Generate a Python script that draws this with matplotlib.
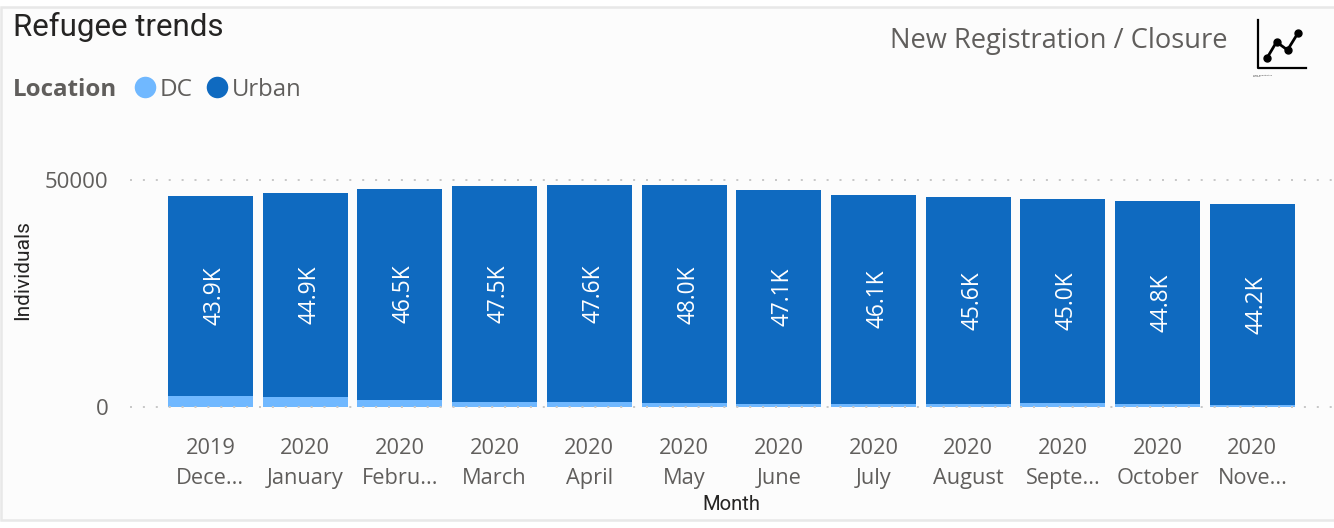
import matplotlib
matplotlib.use("Agg")
import matplotlib.pyplot as plt
from matplotlib.patches import Rectangle
from matplotlib.lines import Line2D

W, H = 1334, 528

years = ["2019", "2020", "2020", "2020", "2020", "2020", "2020", "2020", "2020", "2020", "2020", "2020"]
months = ["Dece...", "January", "Febru...", "March", "April", "May", "June", "July", "August", "Septe...", "October", "Nove..."]
urban = [43900, 44900, 46500, 47500, 47600, 48000, 47100, 46100, 45600, 45000, 44800, 44200]
dc = [2500, 2200, 1600, 1100, 1200, 800, 700, 700, 700, 800, 600, 500]
labels = ["43.9K", "44.9K", "46.5K", "47.5K", "47.6K", "48.0K", "47.1K", "46.1K", "45.6K", "45.0K", "44.8K", "44.2K"]
yticks = [0, 50000]

icon_x = [1267, 1276.5, 1287.5, 1298]
icon_y = [58, 42, 50, 33]

C_DC = "#70B8FF"
C_URBAN = "#0F6AC0"
C_TEXT = "#605E5C"
C_DARK = "#252423"
BODY = "Open Sans"
HEAD = "Roboto"


def fx(px):
    return px / W


def fy(py):
    return 1 - py / H


fig = plt.figure(figsize=(W / 100, H / 100), dpi=100, facecolor="white")
fig.add_artist(Rectangle((fx(1), fy(520)), fx(1336), fy(7) - fy(520), transform=fig.transFigure,
                         facecolor="#FCFCFC", edgecolor="#E8E8E8", linewidth=1.8, zorder=-5))

left, right, top, bottom = 130, 1332, 180, 407
ax = fig.add_axes([fx(left), fy(bottom), fx(right - left), (bottom - top) / H])
ax.patch.set_alpha(0)
x0, pitch = 210.4, 94.72
ax.set_xlim((left - x0) / pitch, (right - x0) / pitch)
ax.set_ylim(0, 50000)
for s in ax.spines.values():
    s.set_visible(False)

xs = list(range(len(urban)))
width = 85 / pitch
ax.bar(xs, dc, width=width, color=C_DC, zorder=2)
ax.bar(xs, urban, width=width, bottom=dc, color=C_URBAN, zorder=2)

for y in yticks:
    ax.axhline(y, color="#C8C8C8", lw=1.44, linestyle=(0, (1, 5.45)), zorder=3, clip_on=False)

for x, d, u, t in zip(xs, dc, urban, labels):
    ax.annotate(t, (x, d + u / 2), xytext=(2.9, 0), textcoords="offset points", rotation=90,
                ha="center", va="center", color="white", fontsize=16.3, family=BODY, zorder=4)

ax.set_yticks(yticks, [str(v) for v in yticks])
ax.tick_params(axis="y", length=0, pad=15.5, labelsize=16, labelcolor=C_TEXT)
ax.set_xticks(xs, [f"{a}\n{b}" for a, b in zip(years, months)])
ax.tick_params(axis="x", length=0, pad=22.5, labelsize=15.7, labelcolor=C_TEXT)
for t in ax.get_xticklabels() + ax.get_yticklabels():
    t.set_family(BODY)
for t in ax.get_xticklabels():
    t.set_linespacing(1.55)

fig.text(fx(13), fy(27), "Refugee trends", family=HEAD, fontsize=22.5, color=C_DARK, va="center", ha="left")
fig.text(fx(23), fy(270), "Individuals", rotation=90, family=HEAD, fontsize=15, color=C_DARK, va="center", ha="center")
fig.text(fx(731), fy(505), "Month", family=HEAD, fontsize=14.6, color=C_DARK, va="center", ha="center")
fig.text(fx(1227), fy(41), "New Registration / Closure", family=BODY, fontsize=19.6, color=C_TEXT, va="center", ha="right")

fig.text(fx(13), fy(90), "Location", family=BODY, fontsize=17.4, fontweight="bold", color=C_TEXT, va="center", ha="left")
fig.text(fx(160), fy(90), "DC", family=BODY, fontsize=17.5, color=C_TEXT, va="center", ha="left")
fig.text(fx(232), fy(90), "Urban", family=BODY, fontsize=17.2, color=C_TEXT, va="center", ha="left")
for cx, c in ((145, C_DC), (217, C_URBAN)):
    fig.add_artist(Line2D([fx(cx)], [fy(87)], marker="o", ms=15.5, mfc=c, mec=c, mew=0, ls="none"))

fig.add_artist(Line2D([fx(1258), fx(1258), fx(1306)], [fy(20), fy(68), fy(68)], color="black", lw=1.6))
fig.add_artist(Line2D([fx(v) for v in icon_x], [fy(v) for v in icon_y], color="black", lw=2,
                      marker="o", ms=5))
fig.text(fx(1253), fy(76), "New Registration\nClosure", fontsize=1.6, color="#444444", va="center", ha="left")

fig.savefig("out.png", dpi=100, facecolor="white")
